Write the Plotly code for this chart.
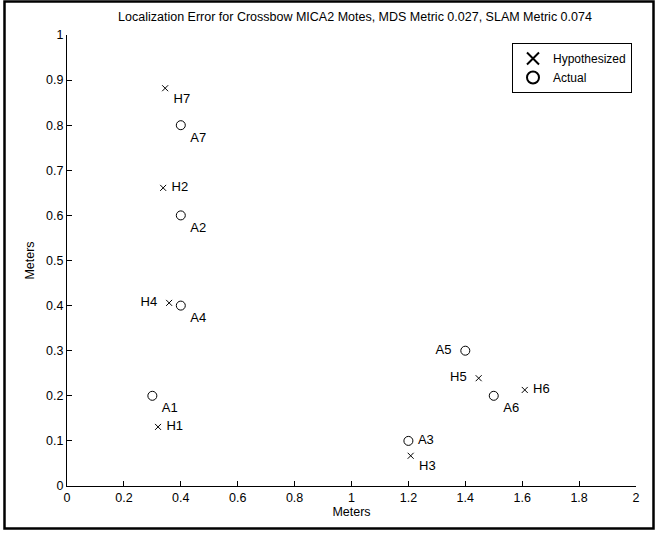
import plotly.graph_objects as go

# Hypothesized positions
hyp_labels = ["H1", "H2", "H3", "H4", "H5", "H6", "H7"]
hyp_x = [0.32, 0.338, 1.208, 0.359, 1.447, 1.609, 0.345]
hyp_y = [0.131, 0.661, 0.067, 0.406, 0.239, 0.213, 0.882]
hyp_textpos = ["middle right", "middle right", "bottom right", "middle left",
               "middle left", "middle right", "bottom right"]

# Actual positions
act_labels = ["A1", "A2", "A3", "A4", "A5", "A6", "A7"]
act_x = [0.3, 0.4, 1.2, 0.4, 1.4, 1.5, 0.4]
act_y = [0.2, 0.6, 0.1, 0.4, 0.3, 0.2, 0.8]
act_textpos = ["bottom right", "bottom right", "middle right", "bottom right",
               "middle left", "bottom right", "bottom right"]

title_text = "Localization Error for Crossbow MICA2 Motes, MDS Metric 0.027, SLAM Metric 0.074"

FONT = "Liberation Sans, Arial, Helvetica, sans-serif"


def pad(labels, positions):
    out = []
    for t, p in zip(labels, positions):
        if p.endswith("left"):
            out.append(t + "  ")
        else:
            out.append(" " + t)
    return out


fig = go.Figure()
fig.add_trace(go.Scatter(
    x=hyp_x, y=hyp_y, mode="markers+text", name="Hypothesized",
    text=pad(hyp_labels, hyp_textpos), textposition=hyp_textpos,
    marker=dict(symbol="x-thin-open", size=6, line=dict(color="black", width=1), color="black"),
    textfont=dict(family=FONT, size=13, color="black"),
))
fig.add_trace(go.Scatter(
    x=act_x, y=act_y, mode="markers+text", name="Actual",
    text=pad(act_labels, act_textpos), textposition=act_textpos,
    marker=dict(symbol="circle-open", size=9, line=dict(color="black", width=1), color="black"),
    textfont=dict(family=FONT, size=13, color="black"),
))

W, H = 670, 535
L, R, T, B = 67, 636, 35, 486
pw, ph = R - L, B - T


def px(x):
    return (x - L) / pw


def py(y):
    return (B - y) / ph


fig.add_shape(type="rect", xref="paper", yref="paper",
              x0=px(4.5), x1=px(653.5), y0=py(528.5), y1=py(1.5),
              line=dict(color="black", width=2.5), fillcolor="rgba(0,0,0,0)")

fig.update_layout(
    width=W, height=H,
    margin=dict(l=L, r=W - R, t=T, b=H - B, pad=0),
    paper_bgcolor="white", plot_bgcolor="white",
    font=dict(family=FONT, size=12, color="black"),
    title=dict(text=title_text, x=px(355), xanchor="center", xref="paper",
               y=1 - 17 / H, yanchor="middle", font=dict(size=12.5)),
    showlegend=True,
    legend=dict(x=px(512), y=py(43), xanchor="left", yanchor="top",
                bordercolor="black", borderwidth=1, bgcolor="white",
                font=dict(size=12), tracegroupgap=0, itemsizing="constant",
                itemwidth=30),
    xaxis=dict(range=[0, 2], dtick=0.2, tick0=0, showgrid=False, zeroline=False,
               showline=True, linecolor="black", linewidth=1,
               ticks="inside", ticklen=5, tickcolor="black",
               tickfont=dict(size=12.5),
               title=dict(text="Meters", standoff=2, font=dict(size=12.5))),
    yaxis=dict(range=[0, 1], dtick=0.1, tick0=0, showgrid=False, zeroline=False,
               showline=True, linecolor="black", linewidth=1,
               ticks="inside", ticklen=5, tickcolor="black",
               tickfont=dict(size=12.5),
               title=dict(text="Meters", standoff=8, font=dict(size=12.5))),
)

fig.write_html(
    "out.html",
    config={"displayModeBar": False},
    post_script=("document.body.style.margin='0';"
                 "document.body.style.overflow='hidden';"
                 "document.documentElement.style.overflow='hidden';"),
)
